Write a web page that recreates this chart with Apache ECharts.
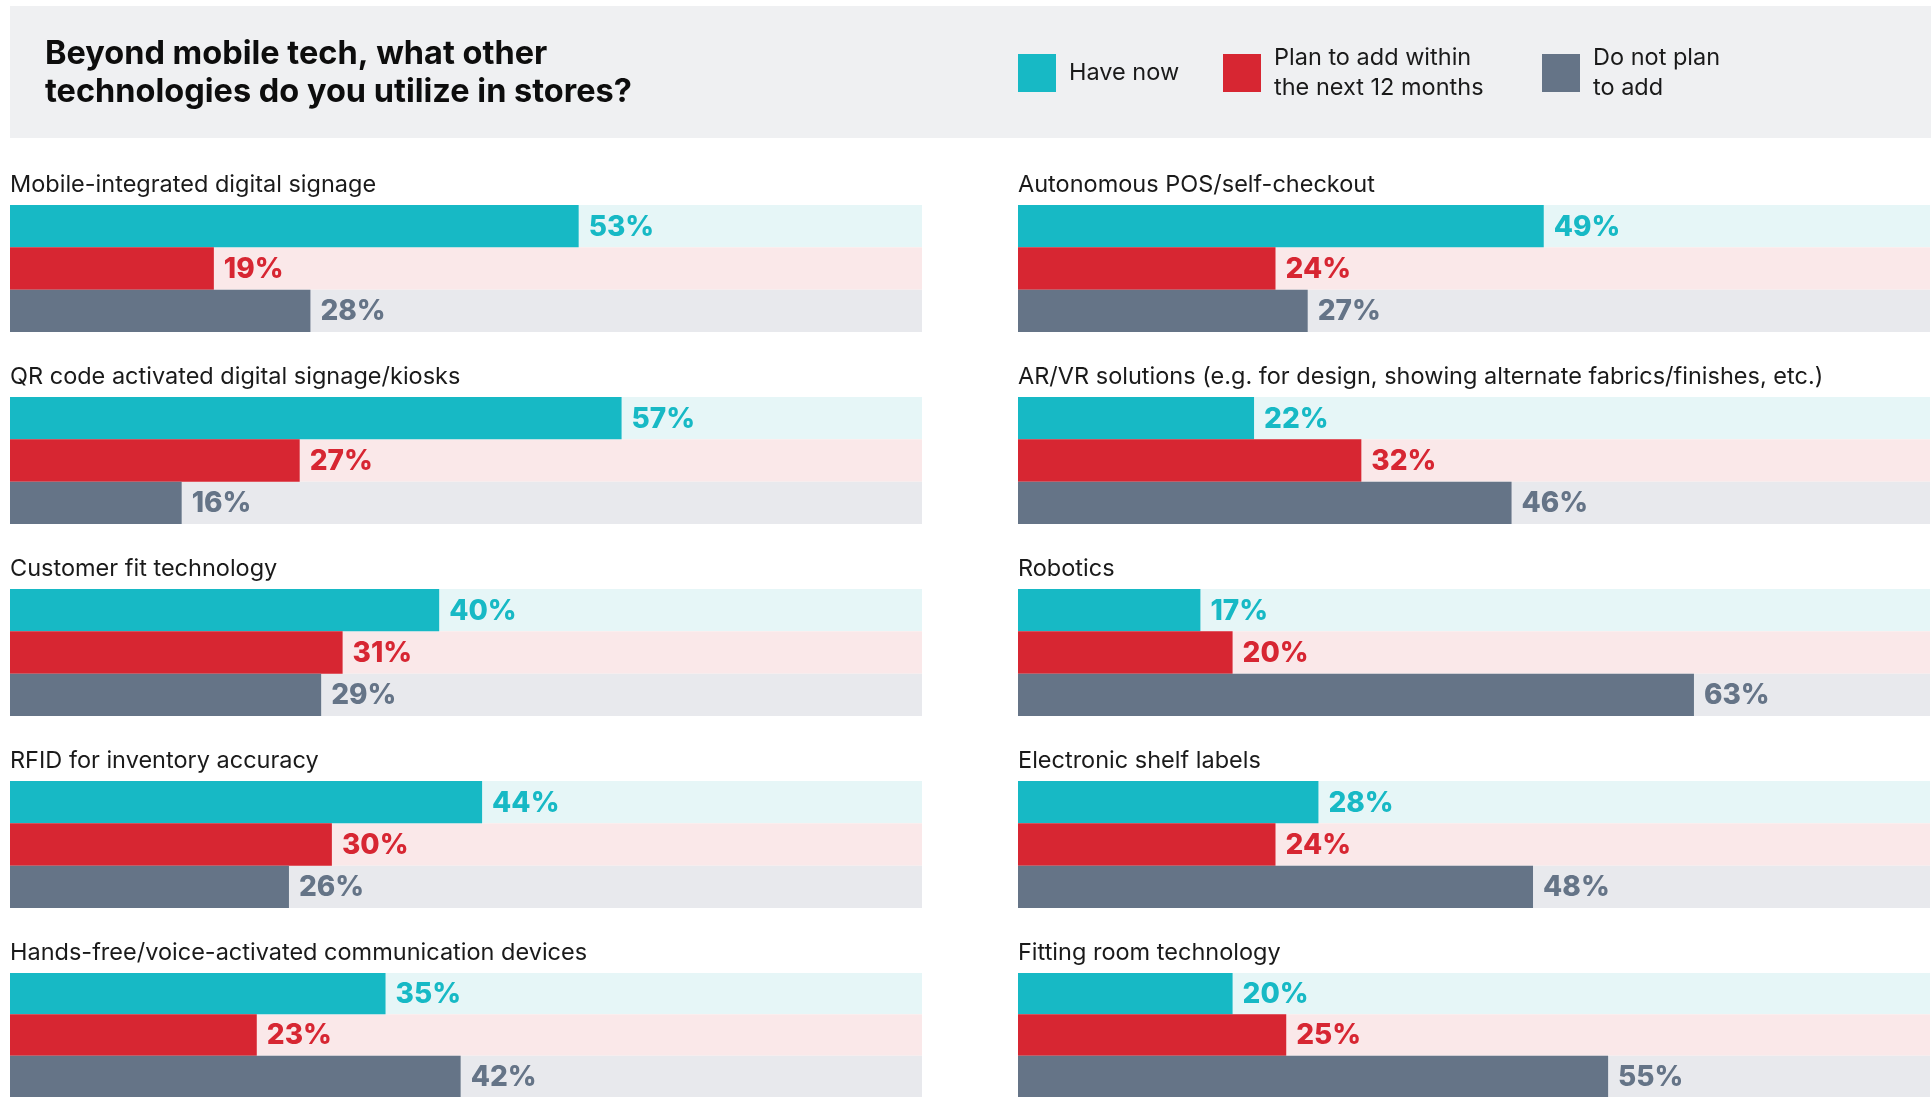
<!DOCTYPE html>
<html>
<head>
<meta charset="utf-8">
<script src="https://cdn.jsdelivr.net/npm/echarts@6/dist/echarts.min.js"></script>
<style>
  html, body { margin: 0; padding: 0; background: #ffffff; }
  #chart { width: 1931px; height: 1097px; }
</style>
</head>
<body>
<div id="chart"></div>
<script>
// ---- Data ----
const titleText = 'Beyond mobile tech, what other\ntechnologies do you utilize in stores?';
const categories = [
  'Mobile-integrated digital signage',
  'QR code activated digital signage/kiosks',
  'Customer fit technology',
  'RFID for inventory accuracy',
  'Hands-free/voice-activated communication devices',
  'Autonomous POS/self-checkout',
  'AR/VR solutions (e.g. for design, showing alternate fabrics/finishes, etc.)',
  'Robotics',
  'Electronic shelf labels',
  'Fitting room technology'
];
const responseNames = ['Have now', 'Plan to add within\nthe next 12 months', 'Do not plan\nto add'];
const haveNow   = [53, 57, 40, 44, 35, 49, 22, 17, 28, 20];
const planToAdd = [19, 27, 31, 30, 23, 24, 32, 20, 24, 25];
const doNotPlan = [28, 16, 29, 26, 42, 27, 46, 63, 48, 55];
const AXIS_MAX = 85;

// ---- Styles ----
const FONT = 'Inter, "Open Sans", sans-serif';
const barColors = ['#17B9C5', '#D72632', '#657487'];
const trackColors = ['#E6F6F7', '#FAE8E9', '#E8E9ED'];
const values = [haveNow, planToAdd, doNotPlan];

const grids = [], xAxes = [], yAxes = [], series = [];
const titles = [{
  text: titleText,
  left: 45, top: 35, padding: 0,
  textStyle: { fontFamily: FONT, fontSize: 32.5, fontWeight: 'bold', lineHeight: 38, color: '#0d0d0d' }
}];

categories.forEach((cat, i) => {
  const col = i < 5 ? 0 : 1;
  const row = i % 5;
  const left = col === 0 ? 10 : 1018;
  const top = 205 + row * 192;
  grids.push({ left: left, top: top, width: 912, height: 127 });
  xAxes.push({ gridIndex: i, type: 'value', min: 0, max: AXIS_MAX, show: false });
  yAxes.push({ gridIndex: i, type: 'category', data: ['have', 'plan', 'not'], inverse: true, show: false });
  titles.push({
    text: cat, left: left, top: top - 32, padding: 0,
    textStyle: { fontFamily: FONT, fontSize: 23.5, fontWeight: 'normal', lineHeight: 23.5, color: '#1a1a1a' }
  });
  series.push({
    type: 'bar', name: 'track' + i, xAxisIndex: i, yAxisIndex: i, silent: true, z: 1,
    barGap: '-100%', barCategoryGap: '0%',
    data: trackColors.map(c => ({ value: AXIS_MAX, itemStyle: { color: c } }))
  });
  for (let k = 0; k < 3; k++) {
    series.push({
      type: 'bar', name: responseNames[k], xAxisIndex: i, yAxisIndex: i, z: 2,
      barGap: '-100%', barCategoryGap: '0%',
      itemStyle: { color: barColors[k] },
      label: {
        show: true, position: 'right', distance: 10, formatter: '{c}%', offset: [0, 1],
        color: barColors[k], fontFamily: FONT, fontSize: 28, fontWeight: 800
      },
      data: [0, 1, 2].map(j => (j === k ? values[k][i] : '-'))
    });
  }
});

const legendCommon = {
  orient: 'horizontal', padding: 0, itemWidth: 38, itemHeight: 38, icon: 'rect',
  selectedMode: false,
  textStyle: { fontFamily: FONT, fontSize: 23.5, lineHeight: 29.5, color: '#1a1a1a', padding: [5, 0, 0, 8] }
};

const option = {
  animation: false,
  backgroundColor: '#ffffff',
  graphic: [{
    type: 'rect', left: 10, top: 6, z: -10, silent: true,
    shape: { width: 1921, height: 132 },
    style: { fill: '#EFF0F2' }
  }],
  title: titles,
  legend: [
    Object.assign({}, legendCommon, { data: [responseNames[0]], left: 1018, top: 54 }),
    Object.assign({}, legendCommon, { data: [responseNames[1]], left: 1223, top: 41 }),
    Object.assign({}, legendCommon, { data: [responseNames[2]], left: 1542, top: 41 })
  ],
  grid: grids,
  xAxis: xAxes,
  yAxis: yAxes,
  series: series
};

const chart = echarts.init(document.getElementById('chart'), null, { renderer: 'canvas' });
chart.setOption(option);
</script>
</body>
</html>
